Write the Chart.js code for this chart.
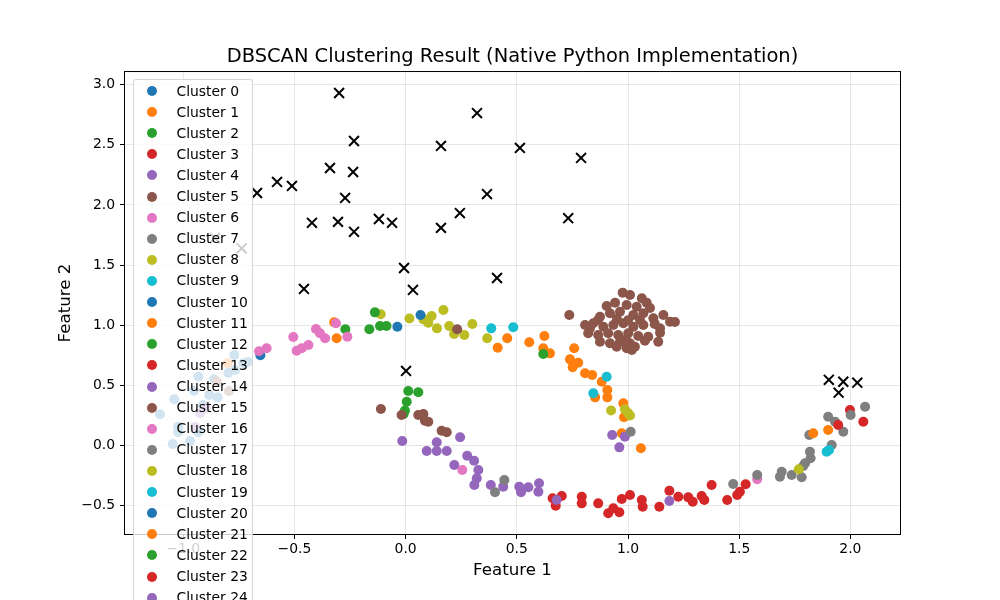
<!DOCTYPE html>
<html><head><meta charset="utf-8">
<script src="https://cdn.jsdelivr.net/npm/chart.js@4"></script>
<style>
html,body{margin:0;padding:0;width:1000px;height:600px;overflow:hidden;background:#fff;}
#wrap{position:relative;width:1000px;height:600px;}
#legend{position:absolute;left:133px;top:79px;width:118px;background:rgba(255,255,255,0.8);border:1px solid rgba(204,204,204,0.8);border-radius:3px;font-family:"DejaVu Sans";font-size:13.9px;color:#000;padding-top:0.5px;padding-bottom:6px;}
.item{height:21.12px;position:relative;}
.mk{position:absolute;left:12.5px;top:5.56px;width:10px;height:10px;border-radius:50%;}
.mkx{position:absolute;left:12.5px;top:5.56px;width:10px;height:10px;}
.lbl{position:absolute;left:42.5px;top:0;line-height:21.12px;white-space:nowrap;}
</style></head>
<body><div id="wrap"><canvas id="c" width="1000" height="600"></canvas><div id="legend"></div></div>
<script>
const tab10 = ['#1f77b4','#ff7f0e','#2ca02c','#d62728','#9467bd','#8c564b','#e377c2','#7f7f7f','#bcbd22','#17becf'];
const xTicks = [-1.0,-0.5,0.0,0.5,1.0,1.5,2.0];
const yTicks = [-0.5,0.0,0.5,1.0,1.5,2.0,2.5,3.0];

const cluster0 = [[-1.040,0.383],[-1.104,0.258],[-1.022,0.108],[-1.047,0.011],[-0.969,0.036],[-0.932,0.108],[-0.951,0.454],[-0.932,0.571],[-0.883,0.418],[-0.861,0.549],[-0.845,0.399],[-0.912,0.335],[-0.797,0.604],[-0.767,0.626],[-0.770,0.751],[-0.730,0.682],[-1.023,0.155],[-0.709,0.693],[-0.653,0.749]];
const cluster1 = [[0.414,0.812],[0.457,0.890],[0.556,0.857],[0.624,0.909],[0.619,0.807],[0.649,0.765],[0.758,0.807],[0.739,0.715],[0.776,0.687],[0.751,0.649],[0.807,0.599],[0.839,0.585],[0.882,0.529],[0.907,0.460],[0.907,0.399],[0.852,0.399],[0.979,0.349],[0.982,0.233],[0.972,0.100],[1.058,-0.025],[-0.800,0.682]];
const cluster2 = [[0.012,0.452],[0.057,0.441],[0.005,0.363],[-0.003,0.290],[-0.009,0.260]];
const cluster3 = [[0.661,-0.441],[0.702,-0.422],[0.675,-0.502],[0.792,-0.428],[0.792,-0.483],[0.866,-0.483],[0.911,-0.566],[0.934,-0.524],[0.961,-0.557],[0.972,-0.447],[1.009,-0.413],[1.062,-0.455],[1.066,-0.511],[1.141,-0.511],[1.186,-0.378],[1.226,-0.428],[1.271,-0.433],[1.291,-0.469],[1.331,-0.422],[1.343,-0.455],[1.376,-0.330],[1.446,-0.455],[1.491,-0.413],[1.503,-0.386],[1.529,-0.324]];
const cluster4 = [[-0.015,0.036],[0.140,0.025],[0.095,-0.047],[0.140,-0.047],[0.185,-0.047],[0.245,0.067],[0.277,-0.087],[0.308,-0.128],[0.327,-0.205],[0.219,-0.164],[0.320,-0.275],[0.309,-0.330],[0.383,-0.330],[0.439,-0.344],[0.511,-0.344],[0.552,-0.349],[0.600,-0.316],[0.597,-0.386],[0.519,-0.391]];
const cluster5 = [[0.736,1.084],[0.976,1.270],[1.009,1.250],[1.062,1.223],[1.084,1.186],[0.904,1.159],[0.942,1.186],[0.994,1.167],[1.039,1.153],[1.159,1.084],[1.189,1.028],[0.874,1.070],[0.919,1.098],[0.964,1.111],[1.024,1.084],[1.069,1.098],[1.114,1.057],[0.807,1.001],[0.844,1.015],[0.889,0.987],[0.934,1.001],[0.979,1.015],[1.024,0.987],[1.069,1.001],[1.144,0.973],[0.821,0.932],[0.866,0.918],[0.911,0.932],[0.956,0.918],[1.001,0.932],[1.046,0.909],[1.091,0.903],[1.144,0.937],[0.874,0.862],[0.919,0.849],[0.964,0.862],[1.009,0.849],[1.076,0.870],[1.136,0.862],[1.017,0.793],[1.031,0.820],[0.949,0.820],[0.994,0.807],[0.829,0.973],[0.865,1.042],[1.054,1.042],[1.099,1.142],[1.211,1.026],[0.950,1.050],[1.000,1.040],[1.120,1.010],[0.990,0.880],[-0.849,0.529],[-0.794,0.452]];
const cluster6 = [[0.255,-0.205],[1.581,-0.283]];
const cluster7 = [[0.444,-0.289],[0.402,-0.391]];
const cluster8 = [[-0.112,1.090],[0.017,1.055],[0.080,1.048],[0.117,1.076],[0.102,1.020],[0.141,0.973],[0.170,1.126],[0.196,0.992],[0.218,0.926],[0.264,0.918],[0.300,1.009],[0.367,0.890]];
const cluster9 = [[0.385,0.973],[0.484,0.982]];
const cluster10 = [[-0.037,0.987]];
const cluster11 = [[-0.321,1.023],[-0.310,0.890]];
const cluster12 = [[-0.271,0.965],[-0.138,1.106],[-0.163,0.965],[-0.115,0.992],[-0.086,0.992]];
const cluster13 = [[1.998,0.294],[2.058,0.196]];
const cluster14 = [[0.929,0.086],[0.986,0.072],[0.961,-0.017]];
const cluster15 = [[-0.111,0.302],[-0.018,0.252],[0.057,0.252],[0.080,0.260],[0.087,0.205],[0.102,0.196],[0.162,0.121],[0.185,0.108],[0.232,0.965]];
const cluster16 = [[-0.659,0.782],[-0.625,0.807],[-0.505,0.901],[-0.490,0.787],[-0.467,0.807],[-0.437,0.834],[-0.403,0.967],[-0.385,0.932],[-0.362,0.890],[-0.313,1.015],[-0.262,0.903]];
const cluster17 = [[1.012,0.113],[1.473,-0.322],[1.581,-0.247],[1.691,-0.220],[1.683,-0.261],[1.736,-0.247],[1.781,-0.266],[1.788,-0.172],[1.796,-0.150],[1.821,-0.108],[1.818,-0.053],[1.815,0.086],[1.916,0.002],[1.900,0.238],[1.931,0.196],[1.968,0.113],[2.001,0.252],[2.066,0.321]];
const cluster18 = [[0.924,0.290],[0.986,0.299],[1.009,0.248],[1.000,0.269],[1.768,-0.200]];
const cluster19 = [[0.904,0.571],[0.844,0.433],[1.893,-0.053],[1.904,-0.039]];
const cluster20 = [[0.067,1.084]];
const cluster21 = [[1.833,0.100],[1.900,0.127]];
const cluster22 = [[0.619,0.760]];
const cluster23 = [[1.945,0.169]];
const cluster24 = [[0.679,-0.455],[1.186,-0.463],[-0.924,0.266],[-0.897,0.310],[-0.947,0.155]];
const noise = [[-0.299,2.931],[0.321,2.764],[-0.232,2.532],[0.159,2.491],[0.514,2.474],[0.789,2.391],[-0.578,2.191],[-0.511,2.158],[-0.668,2.099],[-0.340,2.307],[-0.236,2.274],[-0.272,2.058],[0.366,2.090],[0.244,1.932],[0.731,1.890],[-0.421,1.851],[-0.304,1.859],[-0.120,1.883],[-0.061,1.851],[-0.232,1.776],[0.159,1.809],[-0.007,1.475],[-0.737,1.639],[-0.857,1.725],[0.033,1.293],[-0.457,1.301],[0.411,1.392],[0.002,0.619],[1.903,0.545],[1.968,0.529],[2.031,0.521],[1.947,0.438]];

const clusters = [cluster0,cluster1,cluster2,cluster3,cluster4,cluster5,cluster6,cluster7,cluster8,cluster9,cluster10,cluster11,cluster12,cluster13,cluster14,cluster15,cluster16,cluster17,cluster18,cluster19,cluster20,cluster21,cluster22,cluster23,cluster24];

const datasets = clusters.map((pts,i)=>({
  label:'Cluster '+i,
  data: pts.map(p=>({x:p[0],y:p[1]})),
  backgroundColor: tab10[i%10],
  borderWidth:0,
  pointRadius:5, pointHoverRadius:5,
  order: 200-i
}));
datasets.push({
  label:'Noise',
  data: noise.map(p=>({x:p[0],y:p[1]})),
  pointStyle:'crossRot', pointRadius:7, pointHoverRadius:7,
  borderColor:'#000', backgroundColor:'#000', borderWidth:2,
  order: 0
});

const fmt = v => (v<0?'\u2212':'') + Math.abs(v).toFixed(1);
const FONT = 'DejaVu Sans';

const frame = {id:'frame', afterDatasetsDraw(chart){
  const {ctx, chartArea:a} = chart;
  ctx.save(); ctx.strokeStyle='#000'; ctx.lineWidth=1;
  ctx.strokeRect(a.left-0.5, a.top-0.5, a.right-a.left+1, a.bottom-a.top+1);
  ctx.restore();
}};

const chart = new Chart(document.getElementById('c'), {
  type:'scatter',
  data:{datasets},
  plugins:[frame],
  options:{
    responsive:false, animation:false, devicePixelRatio:1,
    layout:{padding:{left:25,right:0,top:0,bottom:0}},
    plugins:{
      legend:{display:false}, tooltip:{enabled:false},
      title:{display:true, text:'DBSCAN Clustering Result (Native Python Implementation)', color:'#000',
        font:{family:FONT, size:19.44, weight:'normal'}, padding:{top:45.3,bottom:3.4}}
    },
    scales:{
      x:{type:'linear', min:-1.2617, max:2.2230,
        afterFit:s=>{s.height=66;},
        afterBuildTicks:s=>{s.ticks = xTicks.map(v=>({value:v}));},
        ticks:{callback:fmt, color:'#000', font:{family:FONT,size:13.9}, padding:2, maxRotation:0, autoSkip:false},
        grid:{color:'rgba(176,176,176,0.3)', tickColor:'#000', tickLength:5, lineWidth:1},
        border:{display:false},
        title:{display:true, text:'Feature 1', color:'#000', font:{family:FONT,size:16.67}, padding:{top:0,bottom:19}}
      },
      y:{type:'linear', min:-0.738, max:3.1057,
        afterFit:s=>{s.width=100;},
        afterBuildTicks:s=>{s.ticks = yTicks.map(v=>({value:v}));},
        ticks:{callback:fmt, color:'#000', font:{family:FONT,size:13.9}, padding:5, autoSkip:false},
        grid:{color:'rgba(176,176,176,0.3)', tickColor:'#000', tickLength:5, lineWidth:1},
        border:{display:false},
        title:{display:true, text:'Feature 2', color:'#000', font:{family:FONT,size:16.67}, padding:{top:31,bottom:0}}
      },
      yRight:{type:'linear', position:'right', display:true, min:0, max:1,
        afterFit:s=>{s.width=100;},
        ticks:{display:false}, grid:{display:false, drawTicks:false}, border:{display:false}
      }
    }
  }
});

const leg = document.getElementById('legend');
chart.data.datasets.forEach(ds=>{
  const it = document.createElement('div'); it.className='item';
  let mk;
  if (ds.pointStyle==='crossRot') {
    mk = document.createElementNS('http://www.w3.org/2000/svg','svg');
    mk.setAttribute('class','mkx'); mk.setAttribute('width','10'); mk.setAttribute('height','10');
    mk.innerHTML = '<line x1="0.5" y1="0.5" x2="9.5" y2="9.5" stroke="#000" stroke-width="2"/><line x1="9.5" y1="0.5" x2="0.5" y2="9.5" stroke="#000" stroke-width="2"/>';
  } else {
    mk = document.createElement('span'); mk.className='mk'; mk.style.background=ds.backgroundColor;
  }
  const lb = document.createElement('span'); lb.className='lbl'; lb.textContent=ds.label;
  it.appendChild(mk); it.appendChild(lb); leg.appendChild(it);
});
</script>
</body></html>
